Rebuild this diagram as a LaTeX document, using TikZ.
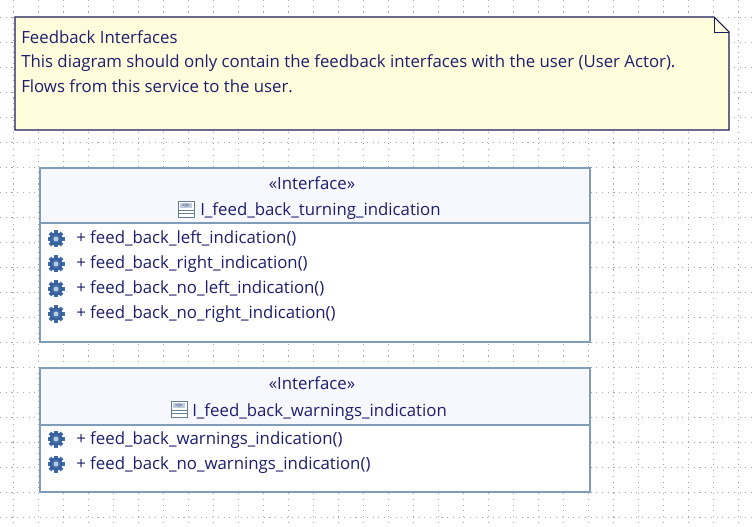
\documentclass[tikz,border=0pt]{standalone}
\usepackage{fontspec}
\setmainfont{Open Sans}
\begin{document}
\begin{tikzpicture}[x=0.75pt,y=-0.75pt,
  txt/.style={text=navytxt,font=\fontsize{12.6}{14}\selectfont,inner sep=0pt,anchor=base west},
  boxline/.style={draw=boxblue,line width=0.8pt}]
\definecolor{navytxt}{HTML}{1E1E6E}
\definecolor{boxblue}{HTML}{7F9DB9}
\definecolor{notefill}{HTML}{FFFCDC}
\definecolor{notedraw}{HTML}{1A1A5A}
\definecolor{hdrfill}{HTML}{F7F8FD}
\definecolor{gearc}{HTML}{3D6AA8}
\useasboundingbox (0,0) rectangle (753,527);
\fill[white] (0,0) rectangle (753,527);
% grid
\foreach \x in {13,38,...,753} \draw[gray!70,line width=0.7pt,dash pattern=on 0.8pt off 3.5pt] (\x,0) -- (\x,527);
\foreach \y in {17,42,...,527} \draw[gray!70,line width=0.7pt,dash pattern=on 0.8pt off 3.5pt] (0,\y) -- (753,\y);
% note
\fill[notefill] (15,17) -- (714,17) -- (729,32) -- (729,130) -- (15,130) -- cycle;
\draw[notedraw,line width=0.8pt] (15,17) -- (714,17) -- (729,32) -- (729,130) -- (15,130) -- cycle;
\draw[notedraw,line width=0.6pt] (714,17) -- (714,32) -- (729,32);
\node[txt] (n1) at (21,44) {Feedback Interfaces};
\node[txt] (n2) at (21,68) {This diagram should only contain the feedback interfaces with the user (User Actor).};
\node[txt] (n3) at (21,93) {Flows from this service to the user.};
% gear pic
\tikzset{gear/.pic={
  \fill[gearc] (0,0) circle (6);
  \foreach \a in {0,45,...,315} \fill[gearc,rotate=\a] (-1.8,-8.5) rectangle (1.8,-4.5);
  \fill[gearc!35!white] (0,0) circle (2.5);
  \draw[gearc!70!black,line width=0.4pt] (0,0) circle (6);
}}
\tikzset{iicon/.pic={
  \fill[white] (-8,-8) rectangle (8,8);
  \draw[boxblue!80!black,line width=0.7pt] (-8,-8) rectangle (8,8);
  \fill[boxblue!50] (-6,-6) rectangle (6,-1);
  \draw[boxblue!80!black,line width=0.6pt] (-8,1) -- (8,1) (-8,4.5) -- (8,4.5);
  \node[font=\fontsize{4}{4}\selectfont,text=navytxt,inner sep=0] at (0,-3.5) {<I>};
}}
% interface 1
\fill[hdrfill] (40,168) rectangle (590,223);
\fill[white] (40,223) rectangle (590,342);
\draw[boxline] (40,168) rectangle (590,342);
\draw[boxline] (40,223) -- (590,223);
\node[txt,anchor=base] (s1) at (312,190) {«Interface»};
\node[txt] (t1) at (200,216) {I\_feed\_back\_turning\_indication};
\pic at (186,209) {iicon};
\foreach \yy/\tt in {244/feed\_back\_left\_indication(),269/feed\_back\_right\_indication(),294/feed\_back\_no\_left\_indication(),319/feed\_back\_no\_right\_indication()}{
  \pic at (56,\yy-5) {gear};
  \node[txt] at (76,\yy) {+ \tt};
}
% interface 2
\fill[hdrfill] (40,368) rectangle (590,425);
\fill[white] (40,425) rectangle (590,492);
\draw[boxline] (40,368) rectangle (590,492);
\draw[boxline] (40,425) -- (590,425);
\node[txt,anchor=base] (s2) at (312,389) {«Interface»};
\node[txt] (t2) at (192,416) {I\_feed\_back\_warnings\_indication};
\pic at (179,409) {iicon};
\foreach \yy/\tt in {444/feed\_back\_warnings\_indication(),469/feed\_back\_no\_warnings\_indication()}{
  \pic at (56,\yy-5) {gear};
  \node[txt] at (76,\yy) {+ \tt};
}
\end{tikzpicture}
\end{document}
